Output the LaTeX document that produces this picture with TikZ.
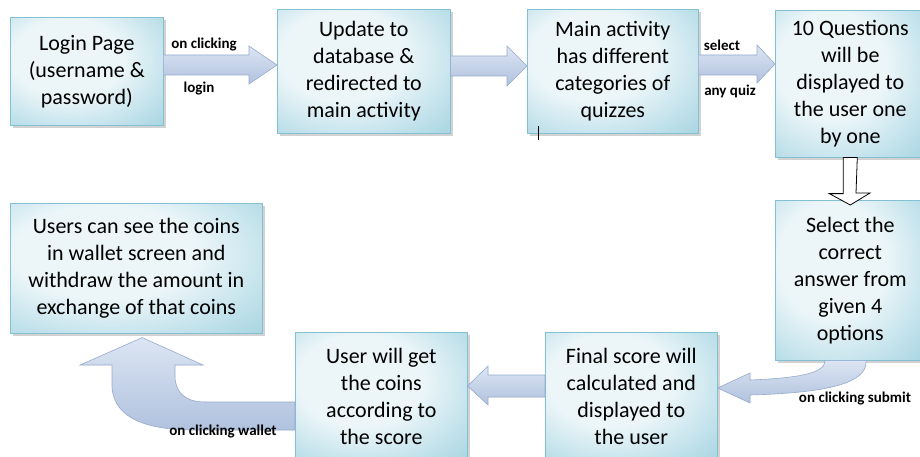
\documentclass[tikz,border=0pt]{standalone}
\usepackage{fontspec}
\setmainfont{Carlito}
\usetikzlibrary{positioning, shadows}

\definecolor{boxedge}{RGB}{130,192,210}
\definecolor{boxdark}{RGB}{140,200,217}
\definecolor{boxlight}{RGB}{236,246,249}
\definecolor{arrowlight}{RGB}{220,229,243}
\definecolor{arrowdark}{RGB}{176,194,222}
\definecolor{arrowedge}{RGB}{150,170,205}
\pgfdeclareradialshading{boxglow}{\pgfpoint{-8bp}{8bp}}{color(0bp)=(boxlight); color(18bp)=(boxlight); color(50bp)=(boxdark); color(80bp)=(boxdark)}

\begin{document}
\begin{tikzpicture}[x=1pt, y=-1pt,
    quizbox/.style={anchor=north west, align=center, draw=boxedge, line width=0.6pt,
        shading=boxglow,
        drop shadow={shadow xshift=2.5pt, shadow yshift=-2.5pt, opacity=0.35},
        font=\fontsize{22}{27}\selectfont},
    bigarrow/.style={draw=arrowedge, line width=0.6pt, top color=arrowlight, bottom color=arrowdark},
    lbl/.style={font=\bfseries\fontsize{15}{18}\selectfont}]
    \fill[white] (0,0) rectangle (920,457);
    \useasboundingbox (0,0) rectangle (920,457);

    % top row
    \node[quizbox, minimum width=153, minimum height=108] (login) at (10,17)
        {Login Page\\(username \&\\password)};
    \node[quizbox, minimum width=173, minimum height=124] (update) at (277,9)
        {Update to\\database \&\\redirected to\\main activity};
    \node[quizbox, minimum width=171, minimum height=124] (mainact) at (527,9)
        {Main activity\\has different\\categories of\\quizzes};
    \node[quizbox, minimum width=150, minimum height=147] (questions) at (775,10)
        {10 Questions\\will be\\displayed to\\the user one\\by one};

    % bottom row
    \node[quizbox, minimum width=150, minimum height=160] (select) at (775,200)
        {Select the\\correct\\answer from\\given 4\\options};
    \node[quizbox, minimum width=172, minimum height=128] (final) at (545,332)
        {Final score will\\calculated and\\displayed to\\the user};
    \node[quizbox, minimum width=172, minimum height=128] (coins) at (295,332)
        {User will get\\the coins\\according to\\the score};
    \node[quizbox, minimum width=252, minimum height=130] (wallet) at (10,203)
        {Users can see the coins\\in wallet screen and\\withdraw the amount in\\exchange of that coins};

    % straight arrows
    \path[bigarrow] (login.east |- 0,55) -- (249,55) -- (249,46) -- (update.west |- 0,65)
        -- (249,84) -- (249,75) -- (login.east |- 0,75) -- cycle;
    \path[bigarrow] (update.east |- 0,56) -- (507,56) -- (507,46) -- (mainact.west |- 0,66)
        -- (507,86) -- (507,76) -- (update.east |- 0,76) -- cycle;
    \path[bigarrow] (mainact.east |- 0,55) -- (757,55) -- (757,45) -- (questions.west |- 0,64)
        -- (757,83) -- (757,75) -- (mainact.east |- 0,75) -- cycle;
    \path[bigarrow] (final.west |- 0,375) -- (488,375) -- (488,366) -- (coins.east |- 0,386)
        -- (488,405) -- (488,397) -- (final.west |- 0,397) -- cycle;

    % down arrow
    \draw[fill=white, line width=0.8pt] ([xshift=-7pt]questions.south) -- ++(0,36) -- ++(-14,0)
        -- ([yshift=-5pt]select.north) -- (870,193) -- ++(-14,0) -- ([xshift=7pt]questions.south) -- cycle;

    % curved arrows
    \path[bigarrow] (select.south -| 866,0) .. controls (868,385) and (820,393) .. (750,395)
        -- (750,403) -- (final.east |- 0,388) -- (750,373) -- (750,380)
        .. controls (800,378) and (825,373) .. (select.south -| 825,0) -- cycle;
    \path[bigarrow] (coins.west |- 0,402) -- (205,402) .. controls (185,402) and (175,392) .. (175,376)
        -- (175,365) -- (203,365) -- ([xshift=6pt,yshift=-4pt]wallet.south) -- (80,365) -- (112,365)
        -- (112,387) .. controls (114,420) and (150,430) .. (195,430) -- (coins.west |- 0,430) -- cycle;

    % labels
    \node[lbl] (l1) at (204,45) {on clicking};
    \node[lbl] (l2) at (199,89) {login};
    \node[lbl] (l3) at (722,45) {select};
    \node[lbl] (l4) at (730,91) {any quiz};
    \node[lbl] (l5) at (855,399) {on clicking submit};
    \node[lbl] (l6) at (223,432) {on clicking wallet};

    \draw[line width=0.8pt] (538,126) -- (538,140);
\end{tikzpicture}
\end{document}
